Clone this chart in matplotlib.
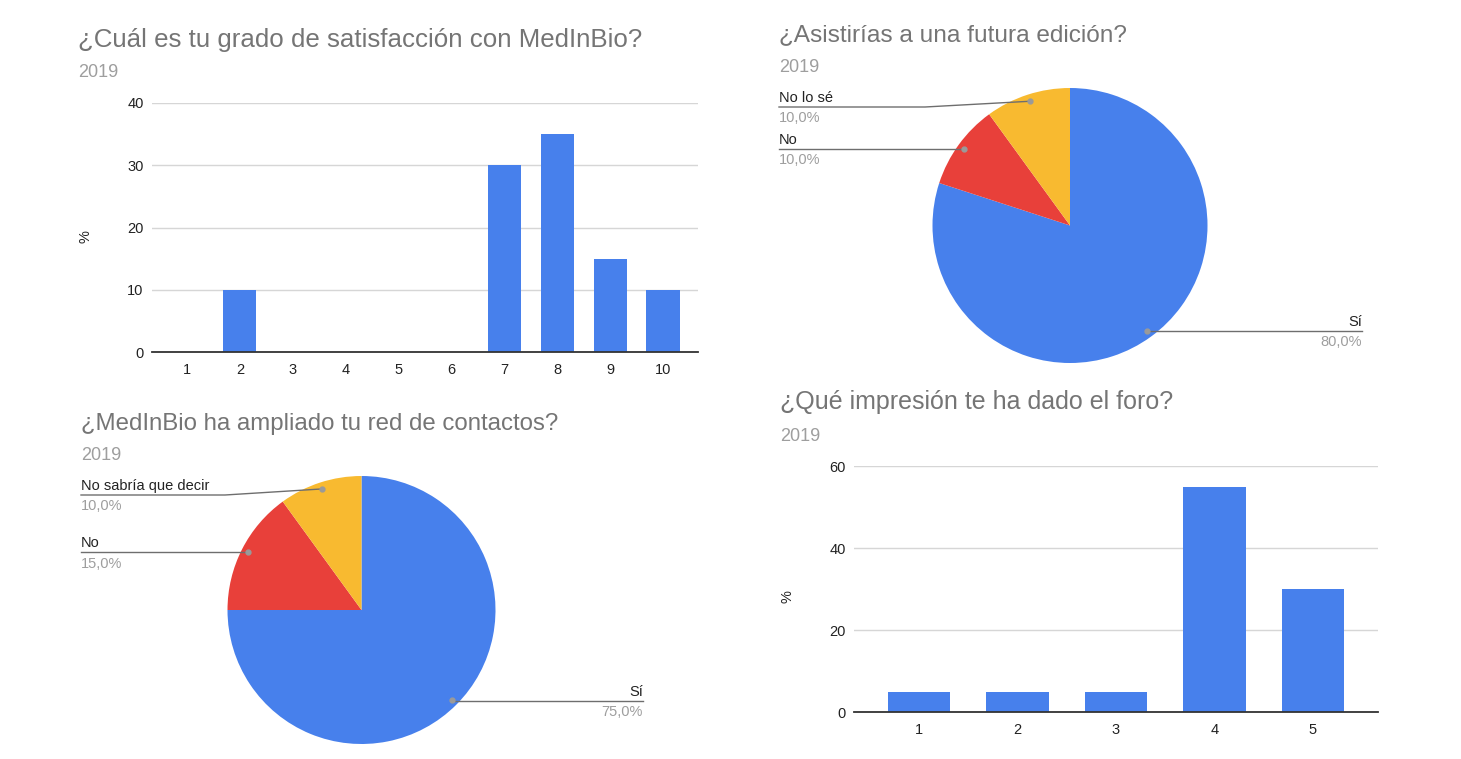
import matplotlib
matplotlib.use("Agg")
import matplotlib.pyplot as plt
import numpy as np

W, H = 1461, 759
plt.rcParams['font.family'] = ['Liberation Sans', 'DejaVu Sans']

BLUE = '#4780ec'
RED = '#e8403a'
YELLOW = '#f8ba30'
TITLE_C = '#757575'
SUB_C = '#9e9e9e'
TEXT_C = '#222222'

# data
sat_labels = ['1', '2', '3', '4', '5', '6', '7', '8', '9', '10']
sat_values = [0, 10, 0, 0, 0, 0, 30, 35, 15, 10]

foro_labels = ['1', '2', '3', '4', '5']
foro_values = [5, 5, 5, 55, 30]

futura_labels = ['Sí', 'No', 'No lo sé']
futura_values = [80, 10, 10]

red_labels = ['Sí', 'No', 'No sabría que decir']
red_values = [75, 15, 10]


def fx(x):
    return x / W


def fy(y):
    return 1 - y / H


def px_axes(fig, x0, y0, x1, y1):
    return fig.add_axes([fx(x0), fy(y1), (x1 - x0) / W, (y1 - y0) / H])


def titles(fig, x, y_title, y_sub, title, size):
    fig.text(fx(x), fy(y_title), title, fontsize=size, color=TITLE_C, va='baseline')
    fig.text(fx(x), fy(y_sub), '2019', fontsize=13, color=SUB_C, va='baseline')


def bar_panel(fig, box, labels, values, ymax, ystep, pct_x, pct_y):
    ax = px_axes(fig, *box)
    xs = np.arange(len(values))
    ax.bar(xs, values, width=0.63, color=BLUE, zorder=3)
    ax.set_xlim(-0.66, len(values) - 1 + 0.66)
    ax.set_ylim(0, ymax)
    ax.set_yticks(np.arange(0, ymax + 1, ystep))
    ax.set_xticks(xs)
    ax.set_xticklabels(labels)
    ax.grid(axis='y', color='#d6d6d6', linewidth=1)
    ax.set_axisbelow(True)
    for s in ['top', 'right', 'left']:
        ax.spines[s].set_visible(False)
    ax.spines['bottom'].set_color('#333333')
    ax.spines['bottom'].set_linewidth(1.3)
    ax.spines['bottom'].set_zorder(4)
    ax.tick_params(length=0, labelsize=10.5, colors=TEXT_C)
    ax.tick_params(axis='x', pad=8)
    ax.tick_params(axis='y', pad=6)
    fig.text(fx(pct_x), fy(pct_y), '%', rotation=90, fontsize=10.5, color=TEXT_C,
             ha='center', va='center')
    return ax


def pie_panel(fig, cx, cy, r, labels, values, line_y, elbow_x, left_x, right_x):
    ax = px_axes(fig, cx - r, cy - r, cx + r, cy + r)
    ax.pie(values, colors=[BLUE, RED, YELLOW], startangle=90, counterclock=False,
           radius=1, wedgeprops=dict(linewidth=0))
    ax.set_xlim(-1, 1)
    ax.set_ylim(-1, 1)
    ax.set_aspect('auto')
    ax.axis('off')

    total = float(sum(values))
    cum = 0.0
    for lab, v, ly, ex in zip(labels, values, line_y, elbow_x):
        mid = np.deg2rad(90 - 360 * (cum + v / 2) / total)
        cum += v
        dx, dy = 0.95 * np.cos(mid), 0.95 * np.sin(mid)
        ly_d = (cy - ly) / r
        pct = f"{v / total * 100:.1f}%".replace('.', ',')
        if dx > 0:
            end = (right_x - cx) / r
            ax.plot([dx, dx, end], [dy, ly_d, ly_d], color='#6e6e6e', lw=1,
                    clip_on=False, zorder=4)
            ax.text(end, (cy - (ly - 5)) / r, lab, ha='right', va='baseline',
                    fontsize=10.5, color=TEXT_C, clip_on=False)
            ax.text(end, (cy - (ly + 15.5)) / r, pct, ha='right', va='baseline',
                    fontsize=10.5, color=SUB_C, clip_on=False)
        else:
            start = (left_x - cx) / r
            elb = dx if ex is None else (ex - cx) / r
            ax.plot([start, elb, dx], [ly_d, ly_d, dy], color='#6e6e6e', lw=1,
                    clip_on=False, zorder=4)
            ax.text(start, (cy - (ly - 5)) / r, lab, ha='left', va='baseline',
                    fontsize=10.5, color=TEXT_C, clip_on=False)
            ax.text(start, (cy - (ly + 15.5)) / r, pct, ha='left', va='baseline',
                    fontsize=10.5, color=SUB_C, clip_on=False)
        ax.plot([dx], [dy], 'o', color='#9a9a9a', markersize=3.5, clip_on=False,
                zorder=5)
    return ax


fig = plt.figure(figsize=(W / 100, H / 100), dpi=100)
fig.patch.set_facecolor('white')

# top left
titles(fig, 78, 47, 77, '¿Cuál es tu grado de satisfacción con MedInBio?', 18.6)
bar_panel(fig, (152, 103, 698, 352), sat_labels, sat_values, 40, 10, 85, 237)

# top right
titles(fig, 779, 41, 72, '¿Asistirías a una futura edición?', 17.6)
pie_panel(fig, 1070, 225.5, 137.5, futura_labels, futura_values,
          [331, 149, 107], [None, None, 925], 779, 1362)

# bottom left
titles(fig, 81, 430, 460, '¿MedInBio ha ampliado tu red de contactos?', 17.3)
pie_panel(fig, 361.5, 610, 134, red_labels, red_values,
          [701, 552, 495], [None, None, 225], 81, 643)

# bottom right
titles(fig, 780, 409, 441, '¿Qué impresión te ha dado el foro?', 18)
bar_panel(fig, (854, 466, 1378, 712), foro_labels, foro_values, 60, 20, 788, 597)

fig.savefig('out.png', dpi=100, facecolor='white')
